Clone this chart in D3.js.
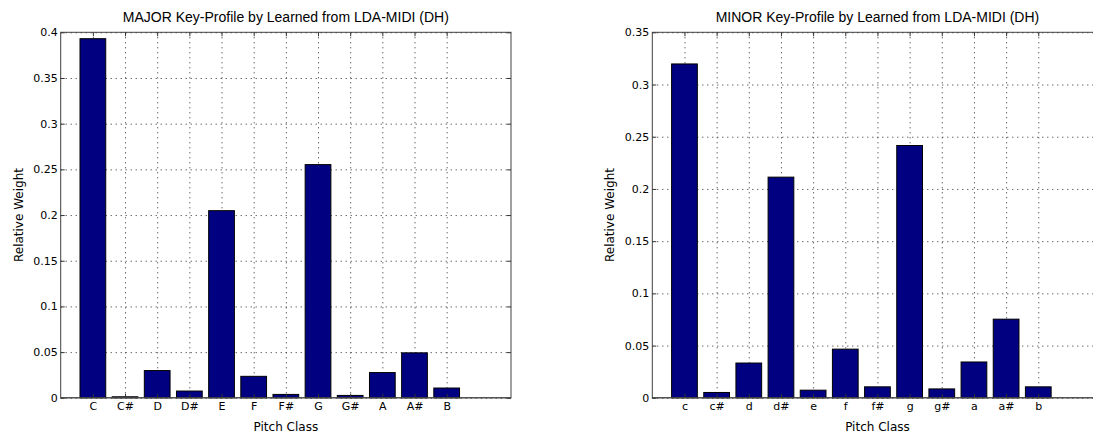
<!DOCTYPE html>
<html>
<head>
<meta charset="utf-8">
<script src="https://cdn.jsdelivr.net/npm/d3@7"></script>
<style>
  html, body { margin: 0; padding: 0; background: #fff; overflow: hidden; }
  svg { display: block; }
  .tick text { fill: #000; }
</style>
</head>
<body>
<svg id="chart" width="1093" height="433"></svg>
<script>
// ---- data ----
const majorCategories = ["C", "C#", "D", "D#", "E", "F", "F#", "G", "G#", "A", "A#", "B"];
const majorValues = [0.393, 0.0011, 0.0298, 0.0074, 0.2048, 0.0235, 0.0037, 0.2552, 0.0026, 0.0276, 0.0492, 0.0107];
const majorYTicks = [0, 0.05, 0.1, 0.15, 0.2, 0.25, 0.3, 0.35, 0.4];

const minorCategories = ["c", "c#", "d", "d#", "e", "f", "f#", "g", "g#", "a", "a#", "b"];
const minorValues = [0.3197, 0.0051, 0.0333, 0.2113, 0.0073, 0.0466, 0.0105, 0.2416, 0.0085, 0.0343, 0.0753, 0.0105];
const minorYTicks = [0, 0.05, 0.1, 0.15, 0.2, 0.25, 0.3, 0.35];

const titles = ["MAJOR Key-Profile by Learned from LDA-MIDI (DH)", "MINOR Key-Profile by Learned from LDA-MIDI (DH)"];
const xLabelText = "Pitch Class";
const yLabelText = "Relative Weight";

// ---- layout ----
const svg = d3.select("#chart");
const TOP = 32.3, BOTTOM = 397.8;
const panels = [
  { left: 60.7, right: 511, cats: majorCategories, vals: majorValues, yTicks: majorYTicks, yMax: 0.4, title: titles[0] },
  { left: 652.3, right: 1102.6, cats: minorCategories, vals: minorValues, yTicks: minorYTicks, yMax: 0.35, title: titles[1] }
];
const tickFont = "'DejaVu Sans', sans-serif";
const labelFont = "'DejaVu Sans', sans-serif";
const titleFont = "'Liberation Sans', Arial, sans-serif";

function fmt(v) { return v === 0 ? "0" : String(+v.toFixed(2)); }

panels.forEach(p => {
  const W = p.right - p.left, H = BOTTOM - TOP;
  const g = svg.append("g").attr("transform", `translate(${p.left},${TOP})`);
  const x = d3.scaleLinear().domain([0, 14]).range([0, W]);
  const y = d3.scaleLinear().domain([0, p.yMax]).range([H, 0]);
  const xTickVals = d3.range(1, p.cats.length + 1);

  g.append("rect").attr("width", W).attr("height", H).attr("fill", "#fff");

  // grid lines
  const gx = g.append("g").attr("class", "grid")
    .call(d3.axisBottom(x).tickValues(xTickVals).tickSize(H).tickFormat(""));
  const gy = g.append("g").attr("class", "grid")
    .call(d3.axisLeft(y).tickValues(p.yTicks).tickSize(-W).tickFormat(""));
  [gx, gy].forEach(gg => {
    gg.select(".domain").remove();
    gg.selectAll("line").attr("stroke", "#2a2a2a").attr("stroke-width", 1).attr("stroke-dasharray", "1,4");
  });

  // bars
  const bw = 0.8;
  g.append("g").selectAll("rect").data(p.vals).join("rect")
    .attr("x", (d, i) => x(i + 1 - bw / 2))
    .attr("y", d => y(d))
    .attr("width", x(bw) - x(0))
    .attr("height", d => y(0) - y(d))
    .attr("fill", "#000080")
    .attr("stroke", "#000")
    .attr("stroke-width", 1);

  // baseline
  g.append("line").attr("x1", 0).attr("x2", W).attr("y1", y(0)).attr("y2", y(0))
    .attr("stroke", "#555").attr("stroke-width", 1);

  // axes with labels
  const ax = g.append("g").attr("transform", `translate(0,${H})`)
    .call(d3.axisBottom(x).tickValues(xTickVals).tickFormat(i => p.cats[i - 1]).tickSize(-4).tickPadding(4));
  const ay = g.append("g")
    .call(d3.axisLeft(y).tickValues(p.yTicks).tickFormat(fmt).tickSize(-4).tickPadding(3));
  const at = g.append("g")
    .call(d3.axisTop(x).tickValues(xTickVals).tickFormat("").tickSize(-4));
  const ar = g.append("g").attr("transform", `translate(${W},0)`)
    .call(d3.axisRight(y).tickValues(p.yTicks).tickFormat("").tickSize(-4));
  [ax, ay, at, ar].forEach(a => {
    a.select(".domain").remove();
    a.selectAll("line").attr("stroke", "#333");
    a.selectAll("text").attr("font-family", tickFont).attr("font-size", "11px").attr("fill", "#000");
  });

  // box
  g.append("rect").attr("width", W).attr("height", H)
    .attr("fill", "none").attr("stroke", "#404040").attr("stroke-width", 1);

  // title
  g.append("text").attr("x", W / 2).attr("y", 22 - TOP)
    .attr("text-anchor", "middle").attr("font-family", titleFont).attr("font-size", "14px")
    .attr("fill", "#000").text(p.title);
  // x label
  g.append("text").attr("x", W / 2).attr("y", 431 - TOP)
    .attr("text-anchor", "middle").attr("font-family", labelFont).attr("font-size", "12px")
    .attr("fill", "#000").text(xLabelText);
  // y label
  g.append("text").attr("transform", `translate(${-38},${H / 2}) rotate(-90)`)
    .attr("text-anchor", "middle").attr("font-family", labelFont).attr("font-size", "12px")
    .attr("fill", "#000").text(yLabelText);
});
</script>
</body>
</html>
